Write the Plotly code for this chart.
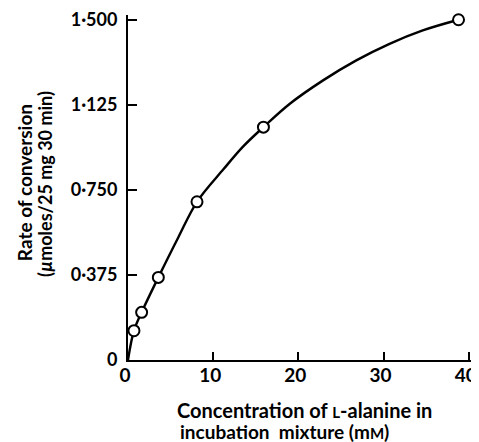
import plotly.graph_objects as go

conc_mM = [0.7, 1.6, 3.56, 8.1, 15.9, 38.8]
rate = [0.129, 0.21, 0.364, 0.697, 1.026, 1.499]

# Hand-drawn fitted curve
curve_x = [0, 0.7, 1.6, 3.56, 5.9, 8.1, 11.2, 13.5, 15.9, 19.0, 22.9, 26.8, 30.7, 34.6, 38.8]
curve_y = [0, 0.129, 0.21, 0.364, 0.54, 0.697, 0.84, 0.94, 1.026, 1.129, 1.232, 1.320, 1.393, 1.452, 1.499]

x_ticks = [0, 10, 20, 30, 40]
y_tickvals = [0, 0.375, 0.75, 1.125, 1.5]
y_ticktext = ["0", "0·375", "0·750", "1·125", "1·500"]

FONT = "Lato"
BOLD_FONT = dict(family=FONT, weight="bold", color="black")

fig = go.Figure()
fig.add_trace(go.Scatter(
    x=curve_x, y=curve_y, mode="lines",
    line=dict(color="black", width=2.4, shape="spline", smoothing=1.0),
    hoverinfo="skip", showlegend=False, cliponaxis=False,
))
fig.add_trace(go.Scatter(
    x=conc_mM, y=rate, mode="markers",
    marker=dict(size=11, color="white", line=dict(color="black", width=2)),
    showlegend=False, cliponaxis=False,
))

# page body has an 8px default margin, so the figure is laid out 8px smaller;
# ranges run a little past the last ticks so plotly keeps the end tick marks
fig.update_layout(
    width=471, height=434,
    margin=dict(l=120, r=6, t=7, b=82),
    paper_bgcolor="white", plot_bgcolor="white",
    font=dict(family=FONT, color="black", size=17),
    xaxis=dict(
        range=[0, 40.5], tickvals=x_ticks, ticktext=[str(v) for v in x_ticks],
        showline=True, linecolor="black", linewidth=2,
        ticks="inside", ticklen=8, tickwidth=2, tickcolor="black",
        showgrid=False, zeroline=False, automargin=False,
        tickfont=dict(size=19, **BOLD_FONT),
        ticklabelstandoff=-3, ticklabelshift=-3, ticklabeloverflow="allow",
    ),
    yaxis=dict(
        range=[0, 1.52], tickvals=y_tickvals, ticktext=y_ticktext,
        showline=True, linecolor="black", linewidth=2,
        ticks="inside", ticklen=9, tickwidth=2, tickcolor="black",
        showgrid=False, zeroline=False, automargin=False,
        tickfont=dict(size=18, **BOLD_FONT),
        ticklabelstandoff=5, ticklabeloverflow="allow",
    ),
)

title_font = dict(size=20, **BOLD_FONT)
fig.add_annotation(
    text="Concentration of <span style='font-size:15px'>L</span>-alanine in",
    xref="paper", yref="paper", x=0.513, y=-0.145,
    xanchor="center", yanchor="middle", showarrow=False, font=title_font,
)
fig.add_annotation(
    text="incubation  mixture (m<span style='font-size:15px'>M</span>)",
    xref="paper", yref="paper", x=0.455, y=-0.207,
    xanchor="center", yanchor="middle", showarrow=False, font=dict(size=19, **BOLD_FONT),
)
fig.add_annotation(
    text="Rate of conversion",
    xref="paper", yref="paper", x=-0.301, y=0.513, textangle=-90,
    xanchor="center", yanchor="middle", showarrow=False, font=dict(size=19, **BOLD_FONT),
)
fig.add_annotation(
    text="(<i>µ</i>moles/25 mg 30 min)",
    xref="paper", yref="paper", x=-0.241, y=0.51, textangle=-90,
    xanchor="center", yanchor="middle", showarrow=False, font=dict(size=18, **BOLD_FONT),
)

fig.write_html("out.html")
